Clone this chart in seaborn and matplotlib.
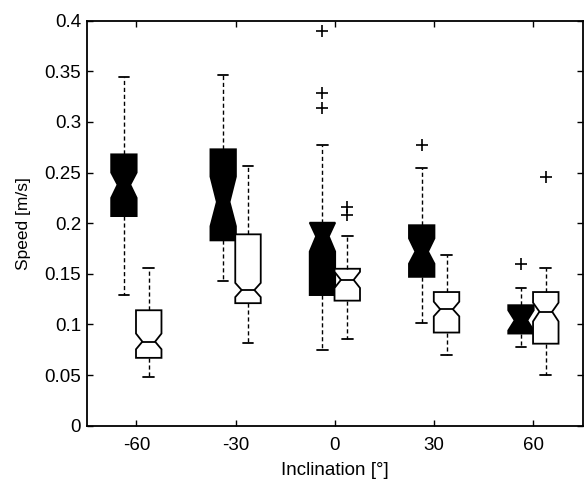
import numpy as np
import seaborn as sns
import matplotlib
matplotlib.use("Agg")
import matplotlib.pyplot as plt
from matplotlib.ticker import FuncFormatter

# inclination groups, black = first condition, white = second condition
groups = [-60, -30, 0, 30, 60]
group_labels = ["-60", "-30", "0", "30", "60"]

# black boxes
black_whislo = [0.129, 0.143, 0.075, 0.101, 0.078]
black_q1 = [0.207, 0.183, 0.129, 0.147, 0.091]
black_cilo = [0.225, 0.197, 0.172, 0.160, 0.094]
black_med = [0.238, 0.221, 0.187, 0.172, 0.104]
black_cihi = [0.250, 0.246, 0.2005, 0.185, 0.114]
black_q3 = [0.268, 0.273, 0.2005, 0.198, 0.119]
black_whishi = [0.344, 0.346, 0.277, 0.255, 0.136]
black_fliers = [[], [], [0.390, 0.329, 0.3135], [0.277], [0.160]]

# white boxes
white_whislo = [0.048, 0.082, 0.086, 0.070, 0.050]
white_q1 = [0.067, 0.121, 0.1235, 0.092, 0.081]
white_cilo = [0.0755, 0.127, 0.136, 0.108, 0.103]
white_med = [0.083, 0.134, 0.144, 0.115, 0.1126]
white_cihi = [0.091, 0.141, 0.152, 0.1225, 0.1215]
white_q3 = [0.114, 0.189, 0.155, 0.132, 0.132]
white_whishi = [0.156, 0.256, 0.187, 0.169, 0.1555]
white_fliers = [[], [], [0.216, 0.208], [], [0.246]]


def make_stats(whislo, q1, cilo, med, cihi, q3, whishi, fliers):
    stats = []
    for i in range(len(med)):
        stats.append(dict(whislo=whislo[i], q1=q1[i], cilo=cilo[i], med=med[i],
                          cihi=cihi[i], q3=q3[i], whishi=whishi[i],
                          fliers=np.array(fliers[i])))
    return stats


sns.set_style("ticks")
plt.rcParams['font.family'] = ['Liberation Sans', 'DejaVu Sans']
plt.rcParams['axes.unicode_minus'] = False

fig = plt.figure(figsize=(5.85, 4.79), dpi=100)
ax = fig.add_axes([0.1482, 0.1113, 0.8484, 0.8455])

offset = 3.75
width = 7.7
for stats, shift, face in [
        (make_stats(black_whislo, black_q1, black_cilo, black_med, black_cihi,
                    black_q3, black_whishi, black_fliers), -offset, "black"),
        (make_stats(white_whislo, white_q1, white_cilo, white_med, white_cihi,
                    white_q3, white_whishi, white_fliers), offset, "white")]:
    ax.bxp(stats, positions=[g + shift for g in groups], widths=width,
           capwidths=3.2, shownotches=True, patch_artist=True,
           manage_ticks=False,
           boxprops=dict(facecolor=face, edgecolor="black", linewidth=1.3),
           medianprops=dict(color="black", linewidth=1.3),
           whiskerprops=dict(color="black", linewidth=1.0, linestyle=(0, (3, 2))),
           capprops=dict(color="black", linewidth=1.3),
           flierprops=dict(marker="+", markersize=8, markeredgewidth=1.2,
                           markeredgecolor="black", linestyle="none"))

ax.set_xlim(-75, 75)
ax.set_ylim(0, 0.4)
ax.set_xticks(groups)
ax.set_xticklabels(group_labels)
ax.set_yticks(np.arange(0, 0.401, 0.05))
ax.yaxis.set_major_formatter(FuncFormatter(lambda v, p: "%g" % round(v, 2)))
ax.tick_params(direction="in", top=True, right=True, length=4, width=1,
               labelsize=13.5, color="black", labelcolor="black")
ax.tick_params(axis="x", pad=8)
ax.tick_params(axis="y", pad=4)
for s in ax.spines.values():
    s.set_linewidth(1.3)
    s.set_color("black")

ax.set_xlabel("Inclination [°]", fontsize=13.5, labelpad=6, color="black")
ax.set_ylabel("Speed [m/s]", fontsize=12.5, labelpad=10, color="black")

fig.savefig("out.png", dpi=100)
